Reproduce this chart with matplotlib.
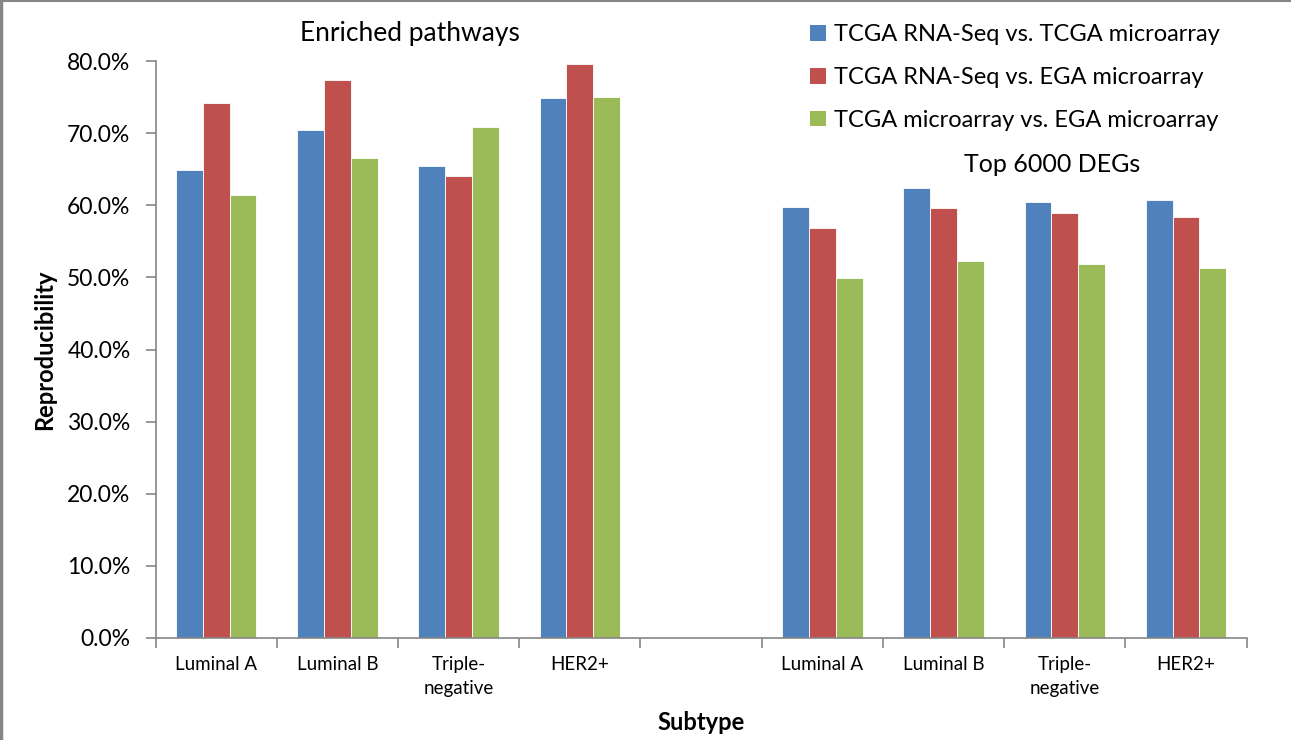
import numpy as np
import matplotlib
matplotlib.use("Agg")
import matplotlib.pyplot as plt
from matplotlib.lines import Line2D
from matplotlib.patches import Patch
from matplotlib.ticker import PercentFormatter

plt.rcParams['font.family'] = ['Lato', 'DejaVu Sans']

# Category axis: four subtypes per panel, one empty slot between the panels
categories = ["Luminal A", "Luminal B", "Triple-\nnegative", "HER2+", "",
              "Luminal A", "Luminal B", "Triple-\nnegative", "HER2+"]

series_names = ["TCGA RNA-Seq vs. TCGA microarray",
                "TCGA RNA-Seq vs. EGA microarray",
                "TCGA microarray vs. EGA microarray"]
series_colors = ["#4F81BD", "#C0504D", "#9BBB59"]

# Reproducibility (%) for enriched pathways and for the top 6000 DEGs
pathways_rna_tcga = [64.9, 70.4, 65.5, 74.9]
pathways_rna_ega = [74.2, 77.3, 64.0, 79.6]
pathways_tcga_ega = [61.4, 66.6, 70.8, 75.0]

degs_rna_tcga = [59.7, 62.4, 60.5, 60.7]
degs_rna_ega = [56.8, 59.6, 58.9, 58.4]
degs_tcga_ega = [49.9, 52.3, 51.9, 51.3]

yticks = [0, 10, 20, 30, 40, 50, 60, 70, 80]

series = [
    pathways_rna_tcga + [np.nan] + degs_rna_tcga,
    pathways_rna_ega + [np.nan] + degs_rna_ega,
    pathways_tcga_ega + [np.nan] + degs_tcga_ega,
]

W, H = 1291, 740
fig = plt.figure(figsize=(W / 100, H / 100), dpi=100)
ax_l, ax_r, ax_t, ax_b = 155.5, 1246.7, 61, 638
ax = fig.add_axes([ax_l / W, 1 - ax_b / H, (ax_r - ax_l) / W, (ax_b - ax_t) / H])

x = np.arange(len(categories))
bar_w = 0.221
for i, (vals, color) in enumerate(zip(series, series_colors)):
    ax.bar(x + (i - 1) * bar_w, vals, width=bar_w, color=color,
           edgecolor="white", linewidth=0.6, label=series_names[i], zorder=2)

ax.set_xlim(-0.5, len(categories) - 0.5)
ax.set_ylim(0, 80)
ax.set_yticks(yticks)
ax.yaxis.set_major_formatter(PercentFormatter(decimals=1))

# Category boundaries carry the tick marks; labels sit at the centres
ax.set_xticks(np.arange(-0.5, len(categories), 1.0))
ax.set_xticklabels([])
ax.set_xticks(x, minor=True)
ax.set_xticklabels(categories, minor=True, fontsize=13.5, linespacing=1.5)
ax.tick_params(axis="x", which="minor", length=0, pad=13)
ax.tick_params(axis="x", which="major", length=7, width=1.2, color="#868686",
               direction="out")
ax.tick_params(axis="y", length=7, width=1.2, color="#868686",
               direction="out", labelsize=16.5, pad=11)

for side in ("top", "right"):
    ax.spines[side].set_visible(False)
for side in ("left", "bottom"):
    ax.spines[side].set_color("#868686")
    ax.spines[side].set_linewidth(1.2)

ax.set_ylabel("Reproducibility", fontsize=17, fontweight="bold")
ax.yaxis.set_label_coords(-(ax_l - 56) / (ax_r - ax_l), 0.5)
ax.set_xlabel("Subtype", fontsize=17, fontweight="bold", labelpad=10)

fig.text(410 / W, 1 - 33 / H, "Enriched pathways", fontsize=19,
         ha="center", va="center")
fig.text(1052 / W, 1 - 165 / H, "Top 6000 DEGs", fontsize=18,
         ha="center", va="center")

handles = [Patch(facecolor=c, edgecolor="none") for c in series_colors]
fig.legend(handles, series_names, loc="upper left",
           bbox_to_anchor=(801 / W, 1 - 15 / H), frameon=False,
           fontsize=17, handlelength=0.65, handleheight=0.65,
           handletextpad=0.35, labelspacing=0.92, borderaxespad=0)

# Chart area outline along the top and left edges
fig.add_artist(Line2D([0, 1], [1 - 1 / H, 1 - 1 / H], transform=fig.transFigure,
                      color="#868686", linewidth=1.5))
fig.add_artist(Line2D([1.5 / W, 1.5 / W], [0, 1], transform=fig.transFigure,
                      color="#868686", linewidth=2.5))

fig.savefig("out.png", dpi=100)
